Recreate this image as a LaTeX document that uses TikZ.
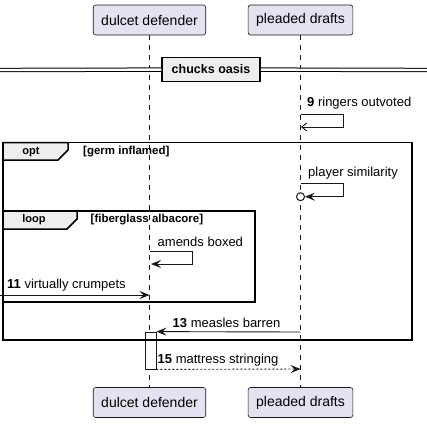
\documentclass[tikz,border=0pt]{standalone}
\usepackage{fontspec}
\setmainfont{Liberation Sans}
\usetikzlibrary{arrows.meta}

\definecolor{partfill}{HTML}{E2E2F0}
\definecolor{linegray}{HTML}{181818}
\definecolor{tabfill}{HTML}{EEEEEE}

\begin{document}
\begin{tikzpicture}[x=1pt, y=-1pt, every node/.style={font=\fontsize{13}{15}\selectfont}]

% Define styles
\tikzstyle{participant} = [rectangle, rounded corners=2.5pt, fill=partfill, draw=linegray, line width=0.6pt, minimum height=30pt, inner xsep=8pt, font=\fontsize{14}{16}\selectfont]
\tikzstyle{lifeline} = [draw=linegray, line width=0.6pt, dash pattern=on 5pt off 5pt]
\tikzstyle{msg} = [draw=linegray, line width=0.9pt, -{Stealth[length=10pt, width=8pt, inset=4pt]}]
\tikzstyle{msgopen} = [draw=linegray, line width=0.9pt, -{Straight Barb[length=5pt, width=8pt]}]
\tikzstyle{msgdash} = [msg, dash pattern=on 2pt off 2pt]
\tikzstyle{msglabel} = [anchor=west, inner sep=0pt]
\tikzstyle{grpframe} = [draw=black, line width=1.5pt]
\tikzstyle{grptab} = [fill=tabfill, draw=black, line width=1.5pt]
\tikzstyle{tabtext} = [inner sep=0pt, font=\fontsize{11}{13}\selectfont\bfseries]
\tikzstyle{guard} = [anchor=west, inner sep=0pt, font=\fontsize{11.5}{13}\selectfont\bfseries]
\tikzstyle{actbox} = [rectangle, fill=white, draw=linegray, line width=0.8pt, minimum width=11pt, minimum height=37pt, inner sep=0pt]

\useasboundingbox (0,0) rectangle (427,423);

% Participants
\node[participant] (ddtop) at (149.5,20) {dulcet defender};
\node[participant] (pdtop) at (300.5,20) {pleaded drafts};
\node[participant] (ddbot) at (149.5,402.5) {dulcet defender};
\node[participant] (pdbot) at (300.5,402.5) {pleaded drafts};
\draw[lifeline] (ddtop) -- (ddbot);
\draw[lifeline] (pdtop) -- (pdbot);

% Separator
\node[rectangle, fill=tabfill, draw=black, line width=1.5pt, minimum width=98pt, minimum height=24pt, inner sep=0pt, font=\fontsize{12.5}{14}\selectfont\bfseries] (sep) at (211,69.5) {chucks oasis};
\coordinate (sepl) at (0,70);
\coordinate (sepr) at (427,70);
\draw[black, line width=1pt, double, double distance=2.4pt] (sepl) -- (sep);
\draw[black, line width=1pt, double, double distance=2.4pt] (sep) -- (sepr);

% 9
\coordinate (m9s) at (300.5,114);
\coordinate (m9e) at (301,127);
\draw[msgopen] (m9s) -- ++(42.5,0) |- (m9e);
\node[msglabel] (l9) at (307,103.5) {\textbf{9} ringers outvoted};

% Activation
\node[actbox] (act) at (150.5,350.5) {};

% opt
\draw[grpframe] (3,142.5) rectangle (412,340);
\draw[grptab] (3,142.5) -- (68,142.5) -- (68,150) -- (58,160) -- (3,160) -- cycle;
\node[tabtext] (opt) at (31,152) {opt};
\node[guard] (gopt) at (83,152) {[germ inflamed]};

% player similarity
\coordinate (mps) at (300.5,183);
\coordinate (mpe) at (305,196.7);
\draw[msg] (mps) -- ++(42.5,0) |- (mpe);
\node[circle, fill=white, draw=linegray, line width=1pt, minimum size=8pt, inner sep=0pt] (lost) at (300.5,196.7) {};
\node[msglabel] (lps) at (308,173) {player similarity};

% loop
\draw[grpframe] (3,211) rectangle (255,302);
\draw[grptab] (3,211) -- (77,211) -- (77,219) -- (67,229) -- (3,229) -- cycle;
\node[tabtext] (loop) at (34,220) {loop};
\node[guard] (gloop) at (90.5,220) {[fiberglass albacore]};

% amends boxed
\coordinate (mab) at (150,251);
\coordinate (mae) at (151,264);
\draw[msg] (mab) -- ++(42,0) |- (mae);
\node[msglabel] (lab) at (157.5,242) {amends boxed};

% 11
\coordinate (m11s) at (0,295);
\coordinate (m11e) at (149.5,295);
\draw[msg] (m11s) -- (m11e);
\node[msglabel] (l11) at (7,285) {\textbf{11} virtually crumpets};

% 13
\coordinate (m13s) at (300.5,332);
\draw[msg] (m13s) -- (act.north east);
\node[msglabel] (l13) at (172.5,323) {\textbf{13} measles barren};

% 15
\coordinate (m15e) at (300.5,369);
\draw[msgdash] (act.south east) -- (m15e);
\node[msglabel] (l15) at (157.5,360.5) {\textbf{15} mattress stringing};

\end{tikzpicture}
\end{document}
